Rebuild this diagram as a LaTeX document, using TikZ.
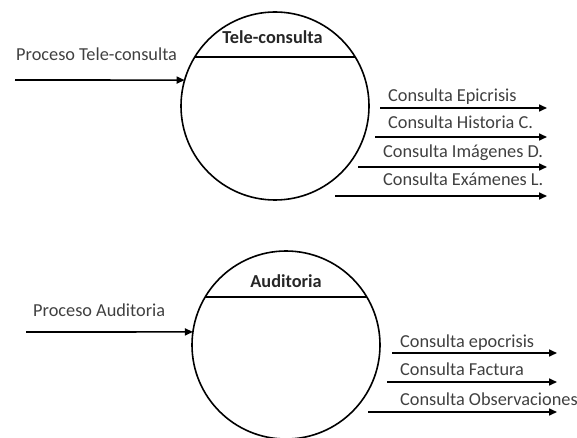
\documentclass[tikz,border=0pt]{standalone}
\usepackage{fontspec}
\setmainfont{Carlito}
\usetikzlibrary{arrows.meta,calc}
\begin{document}
\begin{tikzpicture}[x=1pt,y=-1pt,
  bubble/.style={circle,draw,line width=1.6pt,minimum size=188pt,inner sep=0pt,outer sep=0pt},
  chord/.style={line width=1.6pt},
  title/.style={font=\fontsize{18.3}{20}\selectfont\bfseries,text=black!85,anchor=base,inner sep=0pt},
  lbl/.style={font=\fontsize{18.3}{20}\selectfont,text=black!75,anchor=base west,inner sep=0pt},
  flow/.style={line width=1.6pt,-{Triangle[length=8pt,width=7pt]}}]
\useasboundingbox (0,0) rectangle (577,438);

% Tele-consulta process
\node[bubble] (tele) at (275,106) {};
\draw[chord] ($(tele.center)+(-80.2,-49)$) -- ($(tele.center)+(80.2,-49)$);
\node[title] (teleT) at (272.5,43.5) {Tele-consulta};
\coordinate (teleIn) at (15,80);
\draw[flow] (teleIn) -- (tele.164);
\node[lbl] (teleInL) at (16,60.5) {Proceso Tele-consulta};

\coordinate (t1s) at (380,108); \coordinate (t1e) at (547,108);
\coordinate (t2s) at (375,137); \coordinate (t2e) at (547,137);
\coordinate (t3s) at (358,167); \coordinate (t3e) at (547,167);
\coordinate (t4s) at (335,196); \coordinate (t4e) at (547,196);
\draw[flow] (t1s) -- (t1e);
\draw[flow] (t2s) -- (t2e);
\draw[flow] (t3s) -- (t3e);
\draw[flow] (t4s) -- (t4e);
\node[lbl] (t1L) at (388,101.5) {Consulta Epicrisis};
\node[lbl] (t2L) at (388,128.5) {Consulta Historia C.};
\node[lbl] (t3L) at (383,157.5) {Consulta Imágenes D.};
\node[lbl] (t4L) at (383,185.5) {Consulta Exámenes L.};

% Auditoria process
\node[bubble] (audit) at (286,345) {};
\draw[chord] ($(audit.center)+(-80.8,-48)$) -- ($(audit.center)+(80.8,-48)$);
\node[title] (auditT) at (286,287.5) {Auditoria};
\coordinate (auditIn) at (26,332);
\draw[flow] (auditIn) -- (audit.172);
\node[lbl] (auditInL) at (33,316.5) {Proceso Auditoria};

\coordinate (a1s) at (392,353); \coordinate (a1e) at (557,353);
\coordinate (a2s) at (387,382); \coordinate (a2e) at (557,382);
\coordinate (a3s) at (368,412); \coordinate (a3e) at (557,412);
\draw[flow] (a1s) -- (a1e);
\draw[flow] (a2s) -- (a2e);
\draw[flow] (a3s) -- (a3e);
\node[lbl] (a1L) at (400,347.5) {Consulta epocrisis};
\node[lbl] (a2L) at (400,375.5) {Consulta Factura};
\node[lbl] (a3L) at (400,405.5) {Consulta Observaciones};
\end{tikzpicture}
\end{document}
